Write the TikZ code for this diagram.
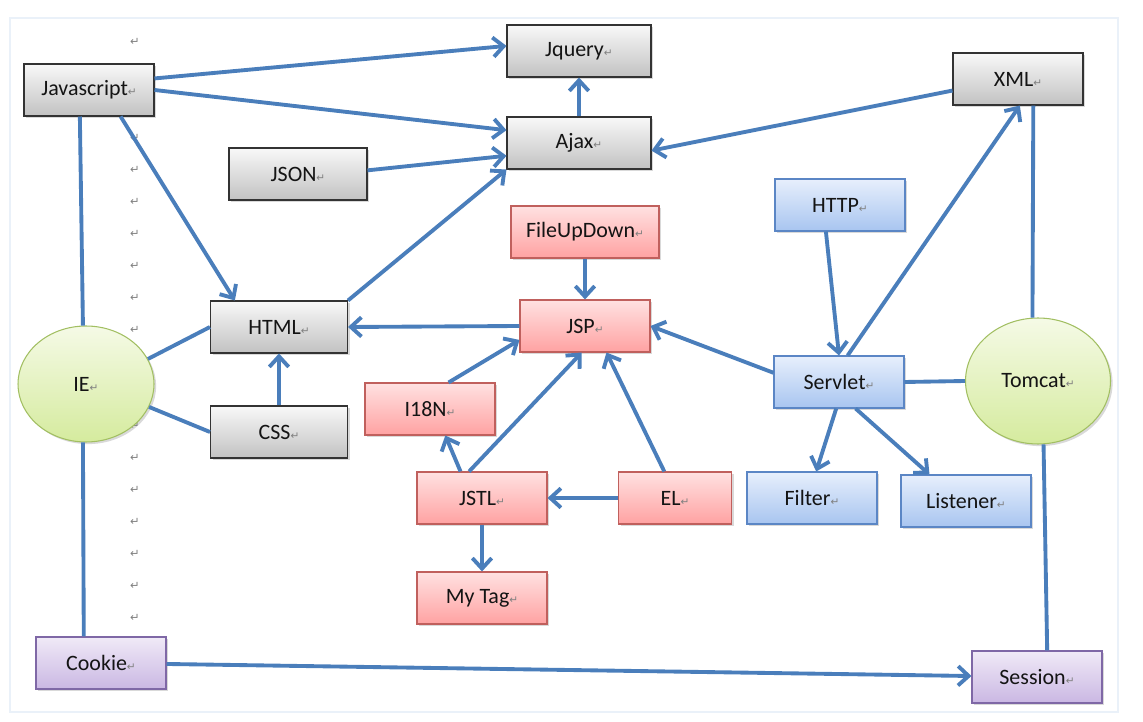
\documentclass[tikz,border=0pt]{standalone}
\usepackage{fontspec}
\setmainfont{Carlito}
\newfontfamily\arrowfont{DejaVu Sans}
\usetikzlibrary{arrows.meta,shapes.geometric,shadows}

\definecolor{framecol}{HTML}{EAF1F9}
\definecolor{markgray}{HTML}{808080}
\definecolor{labelblack}{HTML}{141414}
\definecolor{linkblue}{HTML}{4A7EBB}
\definecolor{graytop}{HTML}{F8F8F8}
\definecolor{graybot}{HTML}{C2C2C2}
\definecolor{grayline}{HTML}{333333}
\definecolor{redtop}{HTML}{FFE1E1}
\definecolor{redbot}{HTML}{FFA2A2}
\definecolor{redline}{HTML}{C0605D}
\definecolor{bluetop}{HTML}{E7EFFC}
\definecolor{bluebot}{HTML}{A8C5F0}
\definecolor{blueline}{HTML}{5B86C5}
\definecolor{purtop}{HTML}{F0EAF7}
\definecolor{purbot}{HTML}{CAB7E3}
\definecolor{purline}{HTML}{7F68A6}
\definecolor{greentop}{HTML}{F5FAE6}
\definecolor{greenbot}{HTML}{D5EB9E}
\definecolor{greenline}{HTML}{A2BF62}

% paragraph marks
\newcommand{\pmark}{{\arrowfont\fontsize{6}{6}\selectfont\textcolor{markgray}{↵}}}
\newcommand{\colmark}{{\arrowfont\fontsize{6.5}{7}\selectfont\textcolor{markgray}{↵}}}

\tikzset{
  box/.style={line width=0.6pt, minimum width=2.6cm, minimum height=1.04cm,
    inner sep=2pt, font=\fontsize{12.5}{14}\selectfont, text=labelblack,
    drop shadow={shadow xshift=1.2pt, shadow yshift=-1.2pt, opacity=0.3}},
  graybox/.style={box, draw=grayline, top color=graytop, bottom color=graybot},
  redbox/.style={box, draw=redline, top color=redtop, bottom color=redbot},
  bluebox/.style={box, draw=blueline, top color=bluetop, bottom color=bluebot},
  purplebox/.style={box, draw=purline, top color=purtop, bottom color=purbot},
  greenell/.style={box, ellipse, draw=greenline, top color=greentop, bottom color=greenbot},
  link/.style={draw=linkblue, line width=2.2pt},
  arrow/.style={link, -{Straight Barb[length=6pt,width=11pt]}},
}

\begin{document}
\begin{tikzpicture}[x=0.02cm, y=-0.02cm]
  \useasboundingbox (0,0) rectangle (1143,722);
  \draw[framecol, line width=1.2pt] (10,18) rectangle (1118,712);

  % column of marks
  \foreach \y in {42,74,...,618}
    \node[inner sep=0pt] (m\y) at (135,\y) {\colmark};

  % browser side
  \node[graybox] (js) at (89,90) {Javascript\pmark};
  \node[graybox, minimum width=2.88cm] (jq) at (579,51) {Jquery\pmark};
  \node[graybox, minimum width=2.88cm] (ajax) at (579,143) {Ajax\pmark};
  \node[graybox, minimum width=2.76cm] (json) at (298,174) {JSON\pmark};
  \node[graybox] (xml) at (1018,79) {XML\pmark};
  \node[graybox, minimum width=2.74cm] (html) at (279,327) {HTML\pmark};
  \node[graybox, minimum width=2.74cm] (css) at (279,432) {CSS\pmark};
  \node[greenell, minimum width=2.72cm, minimum height=2.32cm] (ie) at (86,384) {IE\pmark};

  % jsp
  \node[redbox, minimum width=2.96cm] (fud) at (585,232) {FileUpDown\pmark};
  \node[redbox] (jsp) at (585,326) {JSP\pmark};
  \node[redbox] (i18n) at (430,409) {I18N\pmark};
  \node[redbox] (jstl) at (482,498) {JSTL\pmark};
  \node[redbox, minimum width=2.26cm] (el) at (675,498) {EL\pmark};
  \node[redbox] (mytag) at (482,598) {My Tag\pmark};

  % server side
  \node[bluebox] (http) at (840,205) {HTTP\pmark};
  \node[bluebox] (servlet) at (839,382) {Servlet\pmark};
  \node[bluebox] (filter) at (812,498) {Filter\pmark};
  \node[bluebox] (listener) at (966,501) {Listener\pmark};
  \node[greenell, minimum width=2.9cm, minimum height=2.52cm] (tomcat) at (1038,381) {Tomcat\pmark};

  \node[purplebox] (cookie) at (101,663) {Cookie\pmark};
  \node[purplebox] (session) at (1037,677) {Session\pmark};

  \draw[arrow] (js.10) -- (jq.176);
  \draw[arrow] (js.east) -- (ajax.170);
  \draw[arrow] (json.3) -- (ajax.190);
  \draw[arrow] (html.north east) -- (ajax.south west);
  \draw[arrow] (ajax) -- (jq);
  \draw[arrow] (xml.190) -- (ajax.-6);
  \draw[arrow] (js.-40) -- (html.149);
  \draw[link] (js.-109) -- (ie.93);
  \draw[link] (ie.22) -- (html.west);
  \draw[link] (ie.-20) -- (css.west);
  \draw[arrow] (css) -- (html);
  \draw[arrow] (jsp.west) -- (html.east);

  \draw[arrow] (fud) -- (jsp);
  \draw[arrow] (i18n.55) -- (jsp.192);
  \draw[arrow] (jstl.129) -- (i18n.-60);
  \draw[arrow] (jstl.116) -- (jsp.-97);
  \draw[arrow] (el.112) -- (jsp.-51);
  \draw[arrow] (el) -- (jstl);
  \draw[arrow] (jstl) -- (mytag);

  \draw[arrow] (servlet.172) -- (jsp.east);
  \draw[arrow] (http.-118) -- (servlet.north);
  \draw[arrow] (servlet.72) -- (xml.-86);
  \draw[link] (xml.-60) -- (tomcat.95);
  \draw[link] (servlet.east) -- (tomcat.west);
  \draw[arrow] (servlet.-96) -- (filter.81);
  \draw[arrow] (servlet.-58) -- (listener.144);
  \draw[link] (tomcat.-85) -- (session.69);
  \draw[link] (ie.-93) -- (cookie.123);
  \draw[arrow] (cookie) -- (session);
\end{tikzpicture}
\end{document}
